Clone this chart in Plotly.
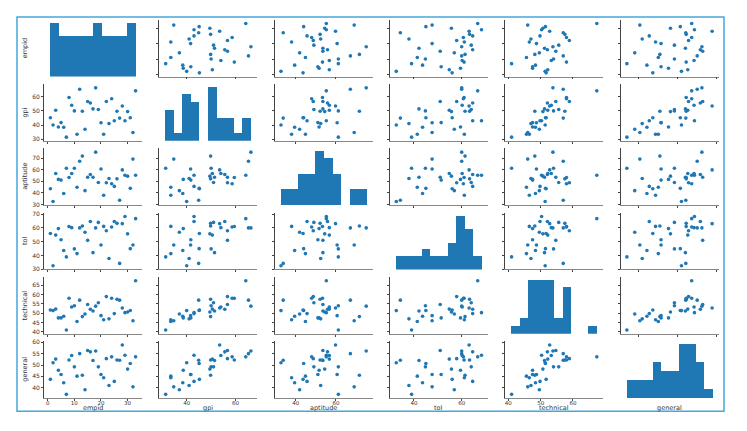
import numpy as np
import plotly.graph_objects as go

# ---------------- data ----------------
empid = list(range(1, 34))
gpi = [45.2, 40, 50.5, 38.6, 41.7, 38.4, 31.4, 59.5, 54, 50, 33.5, 65.3, 49.8, 37, 56.7, 55.6, 51.4,
       66.3, 51, 41.6, 33.5, 56.7, 41, 58.6, 43, 49.8, 44.9, 53.5, 43, 49.5, 45.1, 34.7, 64.2]
aptitude = [43.6, 32.6, 56.7, 51.6, 51, 39.4, 61.2, 53.3, 56.7, 61.2, 44.8, 67.2, 71.7, 41.9, 53.5, 55.8, 53.5,
            75.1, 49, 60.6, 37.9, 48.7, 52.4, 47.9, 45.6, 52.1, 33.7, 59.8, 55.2, 54.4, 43.9, 69.1, 55.2]
tol = [56, 32.6, 54.8, 59.5, 51.4, 43.6, 39, 61, 60.2, 44.8, 41.4, 60, 61.4, 56.9, 51, 64.6, 42.1,
       60, 64, 47.6, 61.1, 57.9, 37.9, 60.7, 64.6, 63.3, 34.3, 63.1, 68.3, 55.7, 45, 47.6, 66.7]
technical = [51.7, 51.4, 52.2, 47.5, 47.5, 48.4, 41, 58, 53.3, 54.0, 45.6, 57.0, 48.2, 49.6, 54.7, 52.1, 51.2,
             53.8, 55.6, 48.7, 46.5, 58.9, 47, 58, 49.8, 57.5, 57, 52.8, 50.3, 50.7, 51.5, 46.0, 67.4]
general = [43.7, 51, 52.6, 47.7, 45.8, 42.2, 37.1, 52.2, 54.2, 49.2, 45.1, 55, 45.5, 39.1, 56.4, 55.8, 52,
           56.2, 49.2, 45.8, 44.4, 52.8, 41, 53.6, 42.8, 52.2, 52.1, 58.8, 54.3, 48.2, 50.7, 40.4, 53.6]

names = ["empid", "gpi", "aptitude", "tol", "technical", "general"]
series = [empid, gpi, aptitude, tol, technical, general]

x_tickvals = [[0, 10, 20, 30], [40, 60], [40, 60], [40, 60], [40, 50, 60], [40, 50, 60]]
y_tickvals = [[0, 10, 20, 30], [30, 40, 50, 60], [30, 40, 50, 60, 70], [30, 40, 50, 60, 70],
              [40, 45, 50, 55, 60, 65], [40, 45, 50, 55, 60]]

# ---------------- layout geometry ----------------
W, H = 747, 431
OFF = 8  # page body margin compensation
col_left = [44 + 115.3 * i - OFF for i in range(6)]
col_w = 98
row_top = [17 + 65.2 * i - OFF for i in range(6)]
row_h = 57.5
PAD = 0.075
BLUE = "#1f77b4"
AX = "#444444"
FONT = dict(family="DejaVu Sans", size=6, color="#333333")
XFONT = dict(family="DejaVu Sans", size=5.5, color="#333333")

ranges = []
for s in series:
    lo, hi = min(s), max(s)
    d = (hi - lo) * PAD
    ranges.append([lo - d, hi + d])


def ax_name(prefix, k):
    return prefix if k == 1 else f"{prefix}{k}"


fig = go.Figure()
layout = dict(width=W, height=H, margin=dict(l=0, r=0, t=0, b=0),
              paper_bgcolor="white", plot_bgcolor="rgba(0,0,0,0)", showlegend=False,
              bargap=0, font=FONT)

for r in range(6):
    for c in range(6):
        k = r * 6 + c + 1
        xa, ya = ax_name("xaxis", k), ax_name("yaxis", k)
        xr, yr = ax_name("x", k), ax_name("y", k)
        xdom = [col_left[c] / W, (col_left[c] + col_w) / W]
        ydom = [1 - (row_top[r] + row_h) / H, 1 - row_top[r] / H]
        layout[xa] = dict(domain=xdom, anchor=yr,
                          range=ranges[c], tickvals=x_tickvals[c], showticklabels=(r == 5),
                          ticks="outside", ticklen=2, tickwidth=0.7, tickcolor=AX,
                          ticklabelstandoff=-3,
                          showline=True, linecolor="#888888", linewidth=0.8,
                          showgrid=False, zeroline=False, tickfont=XFONT)
        layout[ya] = dict(domain=ydom, anchor=xr,
                          range=ranges[r], tickvals=y_tickvals[r], showticklabels=(c == 0),
                          ticks="outside", ticklen=2, tickwidth=0.7, tickcolor=AX,
                          showline=True, linecolor=AX, linewidth=0.8,
                          showgrid=False, zeroline=False, tickfont=FONT)
        if r != c:
            fig.add_trace(go.Scatter(x=series[c], y=series[r], mode="markers",
                                     marker=dict(color=BLUE, size=3.6, line=dict(width=0)),
                                     xaxis=xr, yaxis=yr))
        else:
            counts, edges = np.histogram(series[c], bins=10)
            centers = (edges[:-1] + edges[1:]) / 2
            widths = np.diff(edges)
            hk = 36 + c + 1
            layout[f"xaxis{hk}"] = dict(domain=xdom, anchor=f"y{hk}", visible=False,
                                        range=ranges[c], showgrid=False, zeroline=False)
            layout[f"yaxis{hk}"] = dict(domain=ydom, anchor=f"x{hk}", visible=False,
                                        range=[0, float(counts.max()) * 1.05], showgrid=False,
                                        zeroline=False)
            fig.add_trace(go.Bar(x=centers.tolist(), y=counts.tolist(), width=widths.tolist(),
                                 marker=dict(color=BLUE, line=dict(width=0)),
                                 xaxis=f"x{hk}", yaxis=f"y{hk}"))

annotations = []
for c in range(6):
    annotations.append(dict(text=names[c], x=(col_left[c] + col_w / 2) / W, y=1 - (411 - OFF) / H,
                            xref="paper", yref="paper", showarrow=False,
                            font=dict(family="DejaVu Sans", size=6.5, color="#333333"),
                            xanchor="center", yanchor="middle"))
for r in range(6):
    annotations.append(dict(text=names[r], x=(25 - OFF) / W, y=1 - (row_top[r] + row_h / 2) / H,
                            xref="paper", yref="paper", showarrow=False, textangle=-90,
                            font=dict(family="DejaVu Sans", size=6.5, color="#333333"),
                            xanchor="center", yanchor="middle"))
layout["annotations"] = annotations
layout["shapes"] = [dict(type="rect", xref="paper", yref="paper",
                         x0=(17 - OFF) / W, x1=(724 - OFF) / W,
                         y0=1 - (414 - OFF) / H, y1=1 - (14 - OFF) / H,
                         line=dict(color="#45a8dc", width=1.5), fillcolor="rgba(0,0,0,0)")]

fig.update_layout(**layout)
fig.write_html("out.html")
